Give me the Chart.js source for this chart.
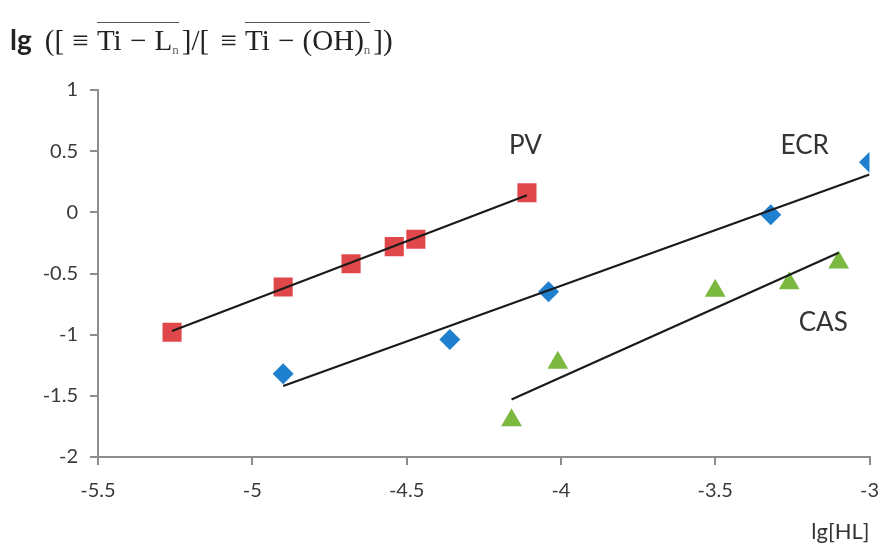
<!DOCTYPE html>
<html>
<head>
<meta charset="utf-8">
<script src="https://cdn.jsdelivr.net/npm/chart.js@4/dist/chart.umd.min.js"></script>
<style>
  html, body { margin: 0; padding: 0; background: #fff; }
  #wrap { position: relative; width: 883px; height: 555px; }
  canvas { position: absolute; left: 0; top: 0; }
  #ttl { position: absolute; left: 10px; top: 22px; white-space: nowrap; color: #222; }
  #ttl .lg { font-family: "Lato", "Open Sans", sans-serif; font-weight: bold; font-size: 28px; vertical-align: baseline; }
  #ttl .s { font-family: "Liberation Serif", "DejaVu Serif", serif; font-size: 29px; margin-left: 13px; word-spacing: 1px; }
  #ttl .ov { display: inline-block; border-top: 1.5px solid #555; line-height: 24px; padding-top: 5px; }
  #ttl sub { font-size: 13px; vertical-align: -4px; color: #666; }
  #ttl .g { margin: 0 3px; }
</style>
</head>
<body>
<div id="wrap">
  <canvas id="c" width="883" height="555"></canvas>
  <div id="ttl"><span class="lg">lg</span><span class="s">([ ≡ <span class="ov">Ti − L<sub>n</sub></span><span class="g">]/[</span> ≡ <span class="ov">Ti − (OH)<sub>n</sub></span><span class="g">])</span></span></div>
</div>
<script>
// ---- data ----
const pvX  = [-5.26, -4.90, -4.68, -4.54, -4.47, -4.11];
const pvY  = [-0.98, -0.61, -0.42, -0.28, -0.22, 0.16];
const ecrX = [-4.90, -4.36, -4.04, -3.32, -3.00];
const ecrY = [-1.32, -1.04, -0.65, -0.02, 0.41];
const casX = [-4.16, -4.01, -3.50, -3.26, -3.10];
const casY = [-1.70, -1.23, -0.64, -0.58, -0.41];
// fitted trend lines (endpoints)
const pvFitX  = [-5.26, -4.11];
const pvFitY  = [-0.97, 0.14];
const ecrFitX = [-4.90, -3.00];
const ecrFitY = [-1.42, 0.31];
const casFitX = [-4.16, -3.10];
const casFitY = [-1.53, -0.33];
// series labels placed in data space
const seriesNames = ['PV', 'ECR', 'CAS'];
const nameX = [-4.115, -3.21, -3.15];
const nameY = [0.545, 0.545, -0.90];
// axis ticks
const xTicks = [-5.5, -5, -4.5, -4, -3.5, -3];
const yTicks = [-2, -1.5, -1, -0.5, 0, 0.5, 1];

const pts = (xs, ys) => xs.map((x, i) => ({ x: x, y: ys[i] }));

const axisGray = '#8d8d8d';
const tickColor = '#3a3a3a';
const tickFont = { family: 'Lato, "Open Sans", sans-serif', size: 20 };

const namePlugin = {
  id: 'names',
  afterDatasetsDraw(chart) {
    const { ctx, scales } = chart;
    ctx.save();
    ctx.fillStyle = '#333';
    ctx.font = '26px Lato, "Open Sans", sans-serif';
    ctx.textAlign = 'center';
    ctx.textBaseline = 'middle';
    seriesNames.forEach((n, i) => {
      ctx.fillText(n, scales.x.getPixelForValue(nameX[i]), scales.y.getPixelForValue(nameY[i]));
    });
    ctx.restore();
  }
};

const lineDs = (xs, ys) => ({
  data: pts(xs, ys), showLine: true, borderColor: '#1a1a1a', borderWidth: 2.2,
  pointRadius: 0, fill: false, order: 0
});

new Chart(document.getElementById('c'), {
  type: 'scatter',
  data: {
    datasets: [
      { label: 'PV', data: pts(pvX, pvY), pointStyle: 'rect', pointRadius: 13.5,
        backgroundColor: '#e0474a', borderColor: '#e0474a', borderWidth: 0, order: 1 },
      { label: 'ECR', data: pts(ecrX, ecrY), pointStyle: 'rectRot', pointRadius: 10.5,
        backgroundColor: '#1f80cf', borderColor: '#1f80cf', borderWidth: 0, order: 1 },
      { label: 'CAS', data: pts(casX, casY), pointStyle: 'triangle', pointRadius: 12,
        backgroundColor: '#7cb940', borderColor: '#7cb940', borderWidth: 0, order: 1 },
      lineDs(pvFitX, pvFitY),
      lineDs(ecrFitX, ecrFitY),
      lineDs(casFitX, casFitY)
    ]
  },
  options: {
    responsive: false,
    animation: false,
    layout: { padding: { top: 90, right: 13, left: 0, bottom: 0 } },
    plugins: { legend: { display: false }, tooltip: { enabled: false } },
    scales: {
      x: {
        type: 'linear', min: -5.5, max: -3,
        afterBuildTicks: (s) => { s.ticks = xTicks.map(v => ({ value: v })); },
        afterFit: (s) => { s.height = 98; s.paddingLeft = 0; s.paddingRight = 0; },
        grid: { display: true, drawOnChartArea: false, drawTicks: true, tickLength: 8, color: axisGray, lineWidth: 2 },
        border: { display: true, color: axisGray, width: 2 },
        ticks: { color: tickColor, font: tickFont, padding: 14, maxRotation: 0,
                 callback: (v) => String(v) },
        title: { display: true, text: 'lg[HL]', align: 'end', color: '#333',
                 font: { family: 'Lato, "Open Sans", sans-serif', size: 22 }, padding: { top: 0, bottom: 10 } }
      },
      y: {
        type: 'linear', min: -2, max: 1,
        afterBuildTicks: (s) => { s.ticks = yTicks.map(v => ({ value: v })); },
        afterFit: (s) => { s.width = 98; s.paddingTop = 0; s.paddingBottom = 0; },
        grid: { display: true, drawOnChartArea: false, drawTicks: true, tickLength: 8, color: axisGray, lineWidth: 2 },
        border: { display: true, color: axisGray, width: 2 },
        ticks: { color: tickColor, font: tickFont, padding: 12, callback: (v) => String(v) }
      }
    }
  },
  plugins: [namePlugin]
});
</script>
</body>
</html>
